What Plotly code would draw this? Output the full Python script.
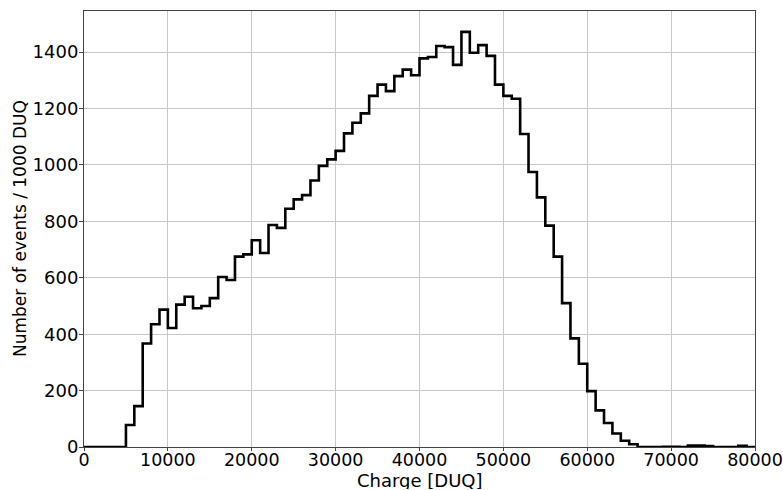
import numpy as np
import plotly.graph_objects as go

bin_width = 1000
bin_start = 0
counts = [
    0, 0, 0, 0, 0, 78, 145, 367, 435, 487,
    422, 505, 533, 492, 500, 528, 603, 592, 675, 683,
    733, 688, 787, 777, 845, 878, 893, 945, 997, 1020,
    1050, 1112, 1150, 1183, 1245, 1285, 1262, 1315, 1338, 1318,
    1378, 1383, 1422, 1418, 1355, 1472, 1398, 1425, 1387, 1285,
    1245, 1235, 1110, 975, 885, 785, 675, 510, 385, 295,
    198, 130, 85, 48, 22, 10, 0, 0, 0, 1,
    1, 0, 5, 5, 3, 0, 0, 0, 4, 0,
]
x_ticks = [0, 10000, 20000, 30000, 40000, 50000, 60000, 70000, 80000]
y_ticks = [0, 200, 400, 600, 800, 1000, 1200, 1400]
x_title = "Charge [DUQ]"
y_title = "Number of events / 1000 DUQ"

edges = [bin_start + i * bin_width for i in range(len(counts) + 1)]
xs = [edges[0]] + edges
ys = [0] + counts + [0]

fig = go.Figure()
fig.add_trace(go.Scatter(
    x=xs, y=ys, mode="lines", line_shape="hv",
    line=dict(color="black", width=2.6), hoverinfo="skip", cliponaxis=False,
))

font = "DejaVu Sans"
fig.update_layout(
    width=783, height=490,
    margin=dict(l=84, r=28, t=11, b=43),
    paper_bgcolor="white", plot_bgcolor="white",
    showlegend=False,
    font=dict(family=font, size=18, color="black"),
    xaxis=dict(
        range=[0, 80000.5], tickvals=x_ticks, ticktext=[str(v) for v in x_ticks],
        showgrid=True, gridcolor="#c8c8c8", gridwidth=1,
        showline=True, linecolor="#444444", linewidth=1, mirror=True,
        zeroline=False, ticks="outside", ticklen=3, tickcolor="#444444",
        ticklabelstandoff=-6, automargin=False, ticklabeloverflow="allow",
        tickfont=dict(size=17.5),
    ),
    yaxis=dict(
        range=[0, 1546], tickvals=y_ticks, ticktext=[str(v) for v in y_ticks],
        showgrid=True, gridcolor="#c8c8c8", gridwidth=1,
        showline=True, linecolor="#444444", linewidth=1, mirror=True,
        zeroline=False, ticks="outside", ticklen=4, tickcolor="#444444",
        ticklabelstandoff=-3, automargin=False,
        tickfont=dict(size=18),
    ),
    annotations=[
        dict(text=x_title, xref="paper", yref="paper", x=0.5, y=0,
             xanchor="center", yanchor="bottom", yshift=-43, showarrow=False,
             height=18, borderpad=0,
             font=dict(size=18, family=font, color="black")),
        dict(text=y_title, xref="paper", yref="paper", x=0, y=0.5,
             xanchor="center", yanchor="middle", xshift=-64, textangle=-90,
             showarrow=False, font=dict(size=17, family=font, color="black")),
    ],
)
fig.write_html("out.html")
